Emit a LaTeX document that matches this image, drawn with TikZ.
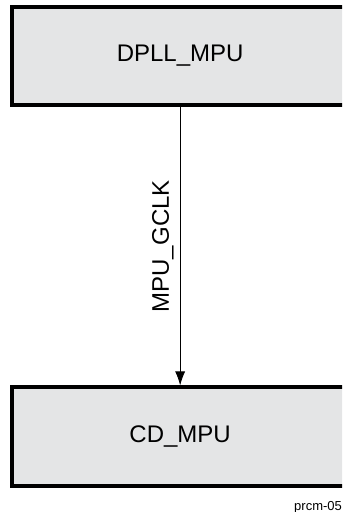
\documentclass[tikz,border=0pt]{standalone}
\usepackage{fontspec}
\setmainfont{Liberation Sans}
\usepackage{tikz}
\usetikzlibrary{positioning,arrows.meta}
\definecolor{softgrey}{RGB}{228,229,230}
\tikzset{
    domainbox/.style={
        draw,
        line width=4pt,
        fill=softgrey,
        align=center,
        font=\fontsize{24}{28}\selectfont,
        minimum width=11.79cm,
        minimum height=3.45cm,
        inner sep=0pt
    },
    clkarrow/.style={-{Latex[length=14pt,width=10pt]}, line width=0.9pt},
    clklabel/.style={
        font=\fontsize{24}{28}\selectfont,
        rotate=90,
        anchor=south,
        inner sep=6pt
    },
    figid/.style={
        font=\fontsize{13}{15}\selectfont,
        anchor=east,
        inner sep=0pt
    }
}

\begin{document}
\begin{tikzpicture}

\useasboundingbox (0,0) rectangle (12.02,-17.99);
\clip (0,0) rectangle (12.02,-17.99);

% Clock source and domain
\node[domainbox] (dpll) at (6.33,-1.97)
{DPLL\_MPU};

\node[domainbox] (cd) at (6.33,-15.34)
{CD\_MPU};

\draw[clkarrow] (dpll) -- (cd)
    node[clklabel, midway] {MPU\_GCLK};

% ------------------------------------------------------------
% Figure id
% ------------------------------------------------------------

\node[figid] (fig) at (12.02,-17.82)
{prcm-05};

\end{tikzpicture}
\end{document}
